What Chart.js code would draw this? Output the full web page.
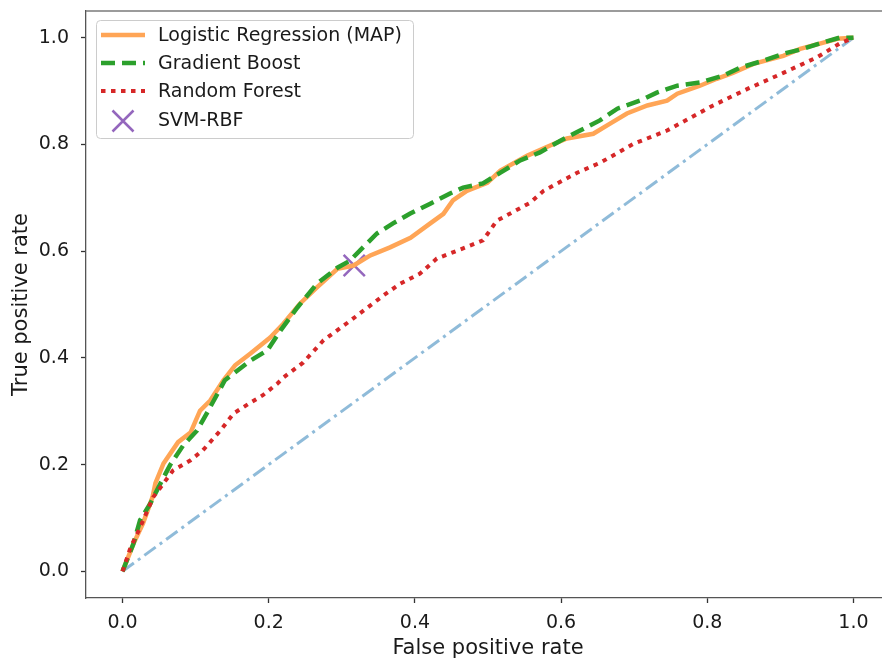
<!DOCTYPE html>
<html>
<head>
<meta charset="utf-8">
<script src="https://cdn.jsdelivr.net/npm/chart.js@4.4.1/dist/chart.umd.min.js"></script>
<style>
html,body{margin:0;padding:0;background:#fff;overflow:hidden;width:882px;height:662px;}
#wrap{position:absolute;left:0;top:0;width:890px;height:662px;}
</style>
</head>
<body>
<div id="wrap"><canvas id="c" width="890" height="662"></canvas></div>
<script>
// ---- data ----
const xTicks = [0.0, 0.2, 0.4, 0.6, 0.8, 1.0];
const yTicks = [0.0, 0.2, 0.4, 0.6, 0.8, 1.0];

const lrFpr = [0,0.015,0.028,0.041,0.045,0.056,0.076,0.093,0.106,0.120,0.138,0.154,0.175,0.202,0.220,0.243,0.266,0.294,0.316,0.339,0.366,0.394,0.421,0.439,0.452,0.471,0.499,0.517,0.554,0.585,0.608,0.644,0.667,0.690,0.718,0.745,0.759,0.790,0.813,0.835,0.863,0.904,0.927,0.954,0.978,1.0];
const lrTpr = [0,0.052,0.090,0.139,0.165,0.202,0.242,0.260,0.301,0.320,0.358,0.386,0.408,0.438,0.464,0.502,0.532,0.567,0.573,0.592,0.607,0.625,0.652,0.670,0.695,0.713,0.728,0.751,0.779,0.798,0.811,0.820,0.839,0.858,0.873,0.882,0.895,0.910,0.923,0.934,0.951,0.966,0.979,0.989,0.998,1.0];

const gbFpr = [0,0.015,0.024,0.038,0.052,0.065,0.083,0.102,0.116,0.130,0.140,0.175,0.198,0.216,0.239,0.266,0.294,0.311,0.329,0.348,0.370,0.393,0.421,0.448,0.466,0.493,0.517,0.544,0.571,0.599,0.626,0.653,0.677,0.708,0.731,0.759,0.790,0.822,0.845,0.877,0.904,0.931,0.958,0.981,1.0];
const gbTpr = [0,0.052,0.096,0.127,0.165,0.199,0.236,0.264,0.298,0.333,0.358,0.395,0.414,0.451,0.494,0.539,0.569,0.582,0.607,0.633,0.652,0.670,0.689,0.708,0.719,0.727,0.747,0.770,0.785,0.807,0.826,0.845,0.867,0.882,0.897,0.910,0.916,0.929,0.944,0.957,0.970,0.979,0.991,1.0,1.0];

const rfFpr = [0,0.011,0.024,0.042,0.054,0.069,0.093,0.110,0.134,0.152,0.175,0.192,0.212,0.220,0.247,0.275,0.312,0.335,0.357,0.380,0.407,0.430,0.458,0.493,0.512,0.558,0.576,0.622,0.654,0.699,0.745,0.777,0.808,0.855,0.904,0.950,0.981,1.0];
const rfTpr = [0,0.045,0.082,0.139,0.161,0.189,0.208,0.227,0.264,0.296,0.316,0.330,0.352,0.363,0.391,0.433,0.470,0.494,0.517,0.539,0.558,0.586,0.601,0.620,0.657,0.691,0.713,0.747,0.766,0.801,0.826,0.850,0.873,0.904,0.934,0.963,0.989,1.0];

const svmFpr = [0.317];
const svmTpr = [0.573];

const chanceFpr = [0, 1];
const chanceTpr = [0, 1];

const labels = ['Logistic Regression (MAP)', 'Gradient Boost', 'Random Forest', 'SVM-RBF'];

function pts(xs, ys){ return xs.map((x,i)=>({x:x, y:ys[i]})); }

const FONT = 'DejaVu Sans';
const TXT = '#1a1a1a';

const legendPlugin = {
  id: 'mplLegend',
  afterDraw(chart){
    const ctx = chart.ctx;
    ctx.save();
    // top spine
    const ca = chart.chartArea;
    ctx.strokeStyle = '#7a7a7a';
    ctx.lineWidth = 1.5;
    ctx.beginPath(); ctx.moveTo(ca.left, ca.top); ctx.lineTo(ca.right, ca.top); ctx.stroke();
    // legend box
    const bx = 96.5, by = 20.5, bw = 317, bh = 118, r = 4;
    ctx.fillStyle = 'rgba(255,255,255,0.8)';
    ctx.strokeStyle = '#cccccc';
    ctx.lineWidth = 1;
    ctx.beginPath();
    ctx.moveTo(bx+r, by); ctx.lineTo(bx+bw-r, by); ctx.arcTo(bx+bw, by, bx+bw, by+r, r);
    ctx.lineTo(bx+bw, by+bh-r); ctx.arcTo(bx+bw, by+bh, bx+bw-r, by+bh, r);
    ctx.lineTo(bx+r, by+bh); ctx.arcTo(bx, by+bh, bx, by+bh-r, r);
    ctx.lineTo(bx, by+r); ctx.arcTo(bx, by, bx+r, by, r);
    ctx.closePath(); ctx.fill(); ctx.stroke();
    const rows = [35, 63, 91, 121];
    const dsIdx = [1, 2, 3, 4];
    ctx.font = '19px "' + FONT + '"';
    ctx.textBaseline = 'middle';
    ctx.textAlign = 'left';
    dsIdx.forEach((di, k) => {
      const ds = chart.data.datasets[di];
      const y = rows[k];
      if (di === 4) {
        ctx.strokeStyle = ds.borderColor;
        ctx.lineWidth = 2.5;
        const cx = 123, s = 10.5;
        ctx.setLineDash([]);
        ctx.beginPath();
        ctx.moveTo(cx-s, y-s); ctx.lineTo(cx+s, y+s);
        ctx.moveTo(cx-s, y+s); ctx.lineTo(cx+s, y-s);
        ctx.stroke();
      } else {
        ctx.strokeStyle = ds.borderColor;
        ctx.lineWidth = ds.borderWidth;
        ctx.setLineDash(ds.borderDash || []);
        ctx.lineCap = 'butt';
        ctx.beginPath(); ctx.moveTo(101, y); ctx.lineTo(145, y); ctx.stroke();
        ctx.setLineDash([]);
      }
      ctx.fillStyle = TXT;
      ctx.fillText(ds.label, 158, k === 3 ? y : y + 1);
    });
    ctx.restore();
  }
};

new Chart(document.getElementById('c'), {
  type: 'scatter',
  data: {
    datasets: [
      { label: 'chance', data: pts(chanceFpr, chanceTpr), showLine: true, borderColor: 'rgba(31,119,180,0.5)', borderWidth: 3, borderDash: [14,5,3,5], pointRadius: 0, order: 5 },
      { label: labels[0], data: pts(lrFpr, lrTpr), showLine: true, borderColor: '#ffa556', borderWidth: 4.5, pointRadius: 0, tension: 0, order: 4 },
      { label: labels[1], data: pts(gbFpr, gbTpr), showLine: true, borderColor: '#2ca02c', borderWidth: 4.5, borderDash: [14,7], pointRadius: 0, order: 3 },
      { label: labels[2], data: pts(rfFpr, rfTpr), showLine: true, borderColor: '#d62728', borderWidth: 4, borderDash: [4.5,5.5], pointRadius: 0, order: 2 },
      { label: labels[3], data: pts(svmFpr, svmTpr), showLine: false, borderColor: '#9467bd', backgroundColor: '#9467bd', pointStyle: 'crossRot', pointRadius: 15, borderWidth: 2.5, order: 10 }
    ]
  },
  options: {
    responsive: false,
    animation: false,
    events: [],
    layout: { autoPadding: false, padding: { left: 0, top: 11, right: 0, bottom: 0 } },
    plugins: { legend: { display: false }, tooltip: { enabled: false } },
    scales: {
      x: {
        type: 'linear', min: -0.05, max: 1.05,
        afterBuildTicks(s){ s.ticks = xTicks.map(v => ({value: v})); },
        afterFit(s){ s.height = 64; s.paddingLeft = 0; s.paddingRight = 0; },
        grid: { drawOnChartArea: false, drawTicks: true, tickLength: 5, tickWidth: 1.3, tickColor: '#333', color: '#333' },
        border: { display: true, color: '#555', width: 1.3 },
        ticks: { font: { family: FONT, size: 19 }, color: TXT, padding: 9, maxRotation: 0, callback: v => v.toFixed(1) },
        title: { display: true, text: 'False positive rate', font: { family: FONT, size: 21 }, color: TXT, padding: { top: 0, bottom: 1 } }
      },
      y: {
        type: 'linear', min: -0.05, max: 1.05,
        afterBuildTicks(s){ s.ticks = yTicks.map(v => ({value: v})); },
        afterFit(s){ s.width = 86; s.paddingTop = 0; s.paddingBottom = 0; },
        grid: { drawOnChartArea: false, drawTicks: true, tickLength: 5, tickWidth: 1.3, tickColor: '#333', color: '#333' },
        border: { display: true, color: '#555', width: 1.3 },
        ticks: { font: { family: FONT, size: 19 }, color: TXT, padding: 12, callback: v => v.toFixed(1) },
        title: { display: true, text: 'True positive rate', font: { family: FONT, size: 21 }, color: TXT, padding: { top: 9, bottom: 0 } }
      }
    }
  },
  plugins: [legendPlugin]
});
</script>
</body>
</html>
